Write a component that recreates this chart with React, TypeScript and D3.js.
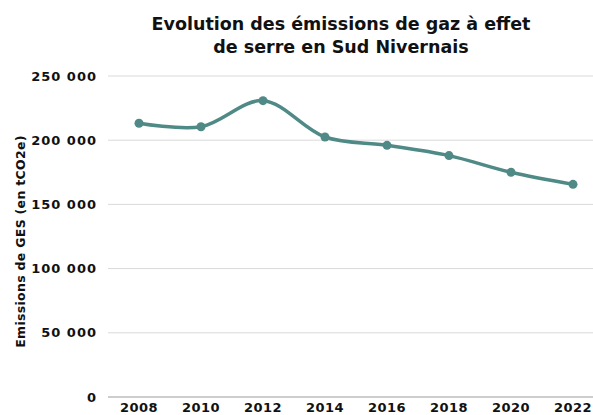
import React from 'react';
import * as d3 from 'd3';

const years = ['2008', '2010', '2012', '2014', '2016', '2018', '2020', '2022'];
const emissions = [213200, 210500, 230800, 202500, 196000, 188000, 175000, 165600];
const yTicks = [0, 50000, 100000, 150000, 200000, 250000];
const titleLines = ['Evolution des émissions de gaz à effet', 'de serre en Sud Nivernais'];

const width = 593;
const height = 415;
const margin = { top: 76, right: -11, bottom: 18, left: 108 };
const font = '"DejaVu Sans", sans-serif';
const color = '#4f8a86';

const fmt = (v: number) => d3.format(',')(v).replace(/,/g, ' ');

export default function App() {
  const x = d3
    .scaleBand()
    .domain(years)
    .range([margin.left, width - margin.right]);
  const y = d3
    .scaleLinear()
    .domain([0, 250000])
    .range([height - margin.bottom, margin.top]);

  const pts: [number, number][] = years.map((yr, i) => [
    x(yr)! + x.bandwidth() / 2,
    y(emissions[i]),
  ]);
  const line = d3.line().curve(d3.curveCatmullRom.alpha(0.5))(pts) || '';

  return (
    <svg
      width={width}
      height={height}
      style={{ position: 'absolute', left: 0, top: 0, background: '#fff' }}
    >
      {titleLines.map((t, i) => (
        <text
          key={t}
          x={341}
          y={30 + i * 23}
          textAnchor="middle"
          fontFamily={font}
          fontWeight="bold"
          fontSize={17.5}
          fill="#111"
        >
          {t}
        </text>
      ))}
      {yTicks.map((t) => (
        <g key={t}>
          <line
            x1={margin.left}
            x2={width}
            y1={y(t)}
            y2={y(t)}
            stroke={t === 0 ? '#bdbdbd' : '#d9d9d9'}
            strokeWidth={t === 0 ? 1.5 : 1}
          />
          <text
            x={97}
            y={y(t)}
            dy="0.35em"
            textAnchor="end"
            fontFamily={font}
            fontWeight="bold"
            fontSize={13}
            letterSpacing={1}
            fill="#111"
          >
            {fmt(t)}
          </text>
        </g>
      ))}
      {years.map((yr) => (
        <text
          key={yr}
          x={x(yr)! + x.bandwidth() / 2}
          y={412}
          textAnchor="middle"
          fontFamily={font}
          fontWeight="bold"
          fontSize={13}
          letterSpacing={0.5}
          fill="#111"
        >
          {yr}
        </text>
      ))}
      <text
        transform={`translate(25,${(margin.top + height - margin.bottom) / 2 + 5}) rotate(-90)`}
        textAnchor="middle"
        fontFamily={font}
        fontWeight="bold"
        fontSize={12.5}
        letterSpacing={0.3}
        fill="#111"
      >
        Emissions de GES (en tCO2e)
      </text>
      <path d={line} fill="none" stroke={color} strokeWidth={3.5} />
      {pts.map((p, i) => (
        <circle key={i} cx={p[0]} cy={p[1]} r={4.5} fill={color} />
      ))}
    </svg>
  );
}
